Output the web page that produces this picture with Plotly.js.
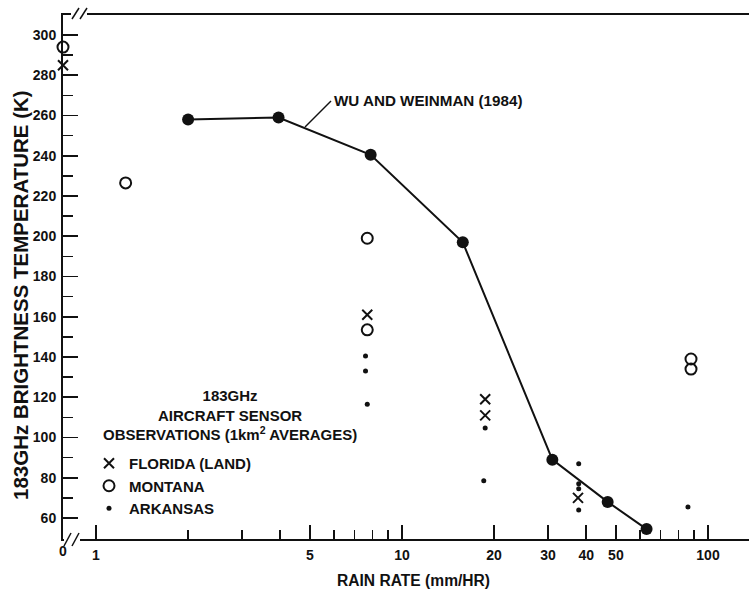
<!DOCTYPE html>
<html>
<head>
<meta charset="utf-8">
<script src="https://cdn.plot.ly/plotly-3.0.1.min.js"></script>
<style>html,body{margin:0;padding:0;background:#fff;}#chart{width:749px;height:593px;}</style>
</head>
<body>
<div id="chart"></div>
<script>
// Wu and Weinman (1984) model curve
const wuRate = [2.0, 3.95, 7.9, 15.8, 31, 47, 63];
const wuTb   = [258, 259, 240.5, 197, 89, 68, 54.5];

// 183 GHz aircraft sensor observations (rate 0 = no rain)
const floridaRate = [0, 7.7, 18.7, 18.7, 37.6];
const floridaTb   = [285, 161, 119, 111, 70];

const montanaRate = [0, 1.25, 7.7, 7.7, 88, 88];
const montanaTb   = [294, 226.5, 199, 153.5, 139, 134];

const arkansasRate = [7.6, 7.6, 7.7, 18.7, 18.5, 37.8, 37.8, 37.8, 37.8, 86];
const arkansasTb   = [140.5, 133, 116.5, 104.7, 78.5, 87, 77, 74.5, 64, 65.5];

const xTickVals = [1, 5, 10, 20, 30, 40, 50, 100];
const xTickText = ['1', '5', '10', '20', '30', '40', '50', '100'];
const xMinorVals = [2, 3, 4, 6, 7, 8, 9, 60, 70, 80, 90];
const yTickVals = [60, 80, 100, 120, 140, 160, 180, 200, 220, 240, 260, 280, 300];
const yMinorVals = [70, 90, 110, 130, 150, 170, 190, 210, 230, 250, 270, 290];

const FONT = 'Liberation Sans, Arial, sans-serif';
const BLACK = '#111';

function split(rates, vals, zero) {
  const xs = [], ys = [];
  rates.forEach((r, i) => { if ((r === 0) === zero) { xs.push(r); ys.push(vals[i]); } });
  return {x: xs, y: ys};
}

const sym = {
  florida: {symbol: 'x-thin-open', size: 10, color: BLACK, line: {color: BLACK, width: 2}},
  montana: {symbol: 'circle-open', size: 11, color: BLACK, line: {color: BLACK, width: 2}},
  arkansas: {symbol: 'circle', size: 5, color: BLACK}
};

const fl = split(floridaRate, floridaTb, false), fl0 = split(floridaRate, floridaTb, true);
const mo = split(montanaRate, montanaTb, false), mo0 = split(montanaRate, montanaTb, true);
const ar = split(arkansasRate, arkansasTb, false);

const traces = [
  {x: wuRate, y: wuTb, mode: 'lines+markers', type: 'scatter', showlegend: false,
   line: {color: BLACK, width: 2}, marker: {symbol: 'circle', size: 12, color: BLACK}},
  {x: fl.x, y: fl.y, mode: 'markers', type: 'scatter', name: 'FLORIDA (LAND)', marker: sym.florida},
  {x: mo.x, y: mo.y, mode: 'markers', type: 'scatter', name: 'MONTANA', marker: sym.montana},
  {x: ar.x, y: ar.y, mode: 'markers', type: 'scatter', name: 'ARKANSAS', marker: sym.arkansas},
  {x: fl0.x, y: fl0.y, xaxis: 'x2', mode: 'markers', type: 'scatter', showlegend: false, cliponaxis: false, marker: sym.florida},
  {x: mo0.x, y: mo0.y, xaxis: 'x2', mode: 'markers', type: 'scatter', showlegend: false, cliponaxis: false, marker: sym.montana}
];

const L = 63, T = 15, B = 539, W = 686, H = 524;
const px = v => (v - L) / W;
const py = v => (B - v) / H;

const tickFont = {family: FONT, size: 14, color: BLACK, weight: 'bold'};

const layout = {
  width: 749, height: 593,
  margin: {l: L, r: 0, t: T, b: 593 - B},
  paper_bgcolor: '#fff', plot_bgcolor: '#fff',
  font: {family: FONT, color: BLACK},
  xaxis: {
    type: 'log', range: [-0.1078, 2.134], showgrid: false, zeroline: false,
    tickmode: 'array', tickvals: xTickVals, ticktext: xTickText,
    ticks: 'inside', ticklen: 14, tickwidth: 1.6, tickcolor: BLACK,
    minor: {tickmode: 'array', tickvals: xMinorVals, ticks: 'inside', ticklen: 9, tickwidth: 1.6, tickcolor: BLACK, showgrid: false},
    showline: true, linewidth: 2, linecolor: BLACK, mirror: true,
    tickfont: tickFont, ticklabelstandoff: 2
  },
  xaxis2: {
    type: 'linear', overlaying: 'x', anchor: 'y', side: 'bottom', range: [0, 1],
    showgrid: false, zeroline: false, showline: false, ticks: '',
    tickmode: 'array', tickvals: [0], ticktext: ['0'], tickfont: tickFont, ticklabelstandoff: 2
  },
  yaxis: {
    range: [49.57, 309.94], showgrid: false, zeroline: false,
    tickmode: 'array', tickvals: yTickVals,
    ticks: 'inside', ticklen: 15, tickwidth: 1.6, tickcolor: BLACK,
    minor: {tickmode: 'array', tickvals: yMinorVals, ticks: 'inside', ticklen: 10, tickwidth: 1.6, tickcolor: BLACK, showgrid: false},
    showline: true, linewidth: 2, linecolor: BLACK, mirror: false,
    tickfont: tickFont, ticklabelstandoff: 2
  },
  showlegend: true,
  legend: {
    x: px(89), xanchor: 'left', y: py(447), yanchor: 'top',
    bgcolor: 'rgba(0,0,0,0)', borderwidth: 0,
    font: {family: FONT, size: 15, color: BLACK, weight: 'bold'}, itemwidth: 30
  },
  annotations: [
    {xref: 'paper', yref: 'paper', x: px(332), y: py(100), xanchor: 'left', yanchor: 'middle',
     text: 'WU AND WEINMAN (1984)', showarrow: false, font: {family: FONT, size: 15.2, color: BLACK, weight: 'bold'}},
    {xref: 'paper', yref: 'paper', x: px(230), y: py(415), xanchor: 'center', yanchor: 'middle',
     text: '183GHz<br>AIRCRAFT SENSOR<br>OBSERVATIONS (1km<sup>2</sup> AVERAGES)', align: 'center',
     showarrow: false, font: {family: FONT, size: 15, color: BLACK, weight: 'bold'}},
    {xref: 'paper', yref: 'paper', x: px(413), y: py(580), xanchor: 'center', yanchor: 'middle',
     text: 'RAIN RATE (mm/HR)', showarrow: false, font: {family: FONT, size: 15.6, color: BLACK, weight: 'bold'}},
    {xref: 'paper', yref: 'paper', x: px(20), y: py(295), xanchor: 'center', yanchor: 'middle', textangle: -90,
     text: '183GHz BRIGHTNESS TEMPERATURE (K)', showarrow: false, font: {family: FONT, size: 20.5, color: BLACK, weight: 'bold'}}
  ],
  shapes: [
    // leader line for model label
    {type: 'line', xref: 'paper', yref: 'paper', x0: px(305), y0: py(127), x1: px(331), y1: py(101), line: {color: BLACK, width: 1.5}, layer: 'above'},
    // top axis break
    {type: 'rect', xref: 'paper', yref: 'paper', x0: px(71), x1: px(87), y0: py(18), y1: py(10), fillcolor: '#fff', line: {width: 0}, layer: 'above'},
    {type: 'line', xref: 'paper', yref: 'paper', x0: px(72), y0: py(19), x1: px(79), y1: py(8), line: {color: BLACK, width: 1.5}, layer: 'above'},
    {type: 'line', xref: 'paper', yref: 'paper', x0: px(80), y0: py(19), x1: px(87), y1: py(8), line: {color: BLACK, width: 1.5}, layer: 'above'},
    // bottom axis break
    {type: 'rect', xref: 'paper', yref: 'paper', x0: px(64), x1: px(80), y0: py(542), y1: py(536), fillcolor: '#fff', line: {width: 0}, layer: 'above'},
    {type: 'line', xref: 'paper', yref: 'paper', x0: px(64), y0: py(546), x1: px(71), y1: py(533), line: {color: BLACK, width: 1.5}, layer: 'above'},
    {type: 'line', xref: 'paper', yref: 'paper', x0: px(72), y0: py(546), x1: px(79), y1: py(533), line: {color: BLACK, width: 1.5}, layer: 'above'}
  ]
};

Plotly.newPlot('chart', traces, layout, {staticPlot: true, displayModeBar: false});
</script>
</body>
</html>
